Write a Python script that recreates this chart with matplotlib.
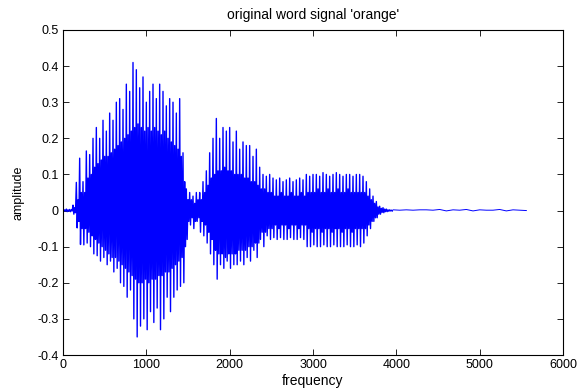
import numpy as np
import matplotlib.pyplot as plt

# per-block peaks (blocks of 40 samples, from 0 to 3960)
hi = [0.003, 0.004, 0.003, 0.015, 0.078, 0.145, 0.08, 0.165, 0.155, 0.2,
      0.23, 0.2, 0.25, 0.22, 0.27, 0.25, 0.3, 0.31, 0.28, 0.35,
      0.33, 0.41, 0.39, 0.34, 0.37, 0.30, 0.33, 0.35, 0.31, 0.35,
      0.33, 0.29, 0.31, 0.30, 0.27, 0.31, 0.16, 0.06, 0.05, 0.04,
      0.05, 0.05, 0.08, 0.11, 0.16, 0.20, 0.255, 0.20, 0.23, 0.22,
      0.23, 0.19, 0.22, 0.17, 0.19, 0.18, 0.18, 0.15, 0.17, 0.12,
      0.10, 0.095, 0.10, 0.09, 0.085, 0.09, 0.08, 0.085, 0.09, 0.08,
      0.085, 0.09, 0.085, 0.10, 0.095, 0.10, 0.10, 0.095, 0.105, 0.10,
      0.095, 0.10, 0.105, 0.10, 0.095, 0.10, 0.10, 0.095, 0.10, 0.10,
      0.095, 0.08, 0.06, 0.04, 0.025, 0.012, 0.008, 0.004, 0.002]
lo = [-0.002, -0.003, -0.003, -0.01, -0.048, -0.094, -0.095, -0.09, -0.10, -0.12,
      -0.125, -0.14, -0.13, -0.15, -0.14, -0.17, -0.16, -0.20, -0.21, -0.24,
      -0.22, -0.30, -0.35, -0.32, -0.30, -0.33, -0.28, -0.31, -0.27, -0.33,
      -0.30, -0.24, -0.28, -0.24, -0.22, -0.21, -0.20, -0.08, -0.04, -0.05,
      -0.03, -0.06, -0.07, -0.09, -0.12, -0.15, -0.19, -0.15, -0.16, -0.14,
      -0.16, -0.15, -0.15, -0.14, -0.15, -0.13, -0.14, -0.11, -0.13, -0.08,
      -0.10, -0.07, -0.08, -0.075, -0.08, -0.075, -0.08, -0.08, -0.075, -0.08,
      -0.08, -0.075, -0.08, -0.10, -0.10, -0.095, -0.10, -0.10, -0.095, -0.10,
      -0.10, -0.095, -0.10, -0.10, -0.10, -0.095, -0.10, -0.10, -0.095, -0.10,
      -0.09, -0.07, -0.05, -0.03, -0.02, -0.01, -0.006, -0.003, -0.001]
core_hi = [0.002, 0.002, 0.002, 0.008, 0.03, 0.05, 0.05, 0.09, 0.10, 0.12,
           0.13, 0.14, 0.15, 0.15, 0.16, 0.17, 0.18, 0.19, 0.20, 0.21,
           0.22, 0.23, 0.24, 0.23, 0.22, 0.23, 0.22, 0.23, 0.22, 0.21,
           0.22, 0.20, 0.19, 0.18, 0.17, 0.15, 0.08, 0.03, 0.03, 0.02,
           0.03, 0.03, 0.05, 0.07, 0.09, 0.10, 0.11, 0.11, 0.12, 0.11,
           0.11, 0.10, 0.10, 0.10, 0.09, 0.09, 0.08, 0.08, 0.07, 0.06,
           0.06, 0.05, 0.05, 0.04, 0.04, 0.05, 0.04, 0.04, 0.05, 0.04,
           0.04, 0.05, 0.04, 0.05, 0.05, 0.05, 0.06, 0.05, 0.05, 0.06,
           0.05, 0.05, 0.06, 0.05, 0.05, 0.06, 0.05, 0.05, 0.05, 0.05,
           0.05, 0.04, 0.03, 0.02, 0.01, 0.006, 0.004, 0.002, 0.001]
core_lo = [-0.001, -0.002, -0.001, -0.006, -0.03, -0.05, -0.05, -0.06, -0.07, -0.08,
           -0.09, -0.10, -0.11, -0.12, -0.13, -0.13, -0.14, -0.15, -0.16, -0.17,
           -0.18, -0.19, -0.20, -0.20, -0.19, -0.20, -0.19, -0.19, -0.18, -0.18,
           -0.17, -0.17, -0.16, -0.15, -0.14, -0.13, -0.10, -0.03, -0.02, -0.03,
           -0.02, -0.03, -0.04, -0.06, -0.08, -0.11, -0.12, -0.12, -0.13, -0.12,
           -0.12, -0.12, -0.11, -0.11, -0.11, -0.10, -0.10, -0.09, -0.09, -0.06,
           -0.06, -0.05, -0.05, -0.04, -0.05, -0.04, -0.04, -0.05, -0.04, -0.04,
           -0.05, -0.04, -0.04, -0.05, -0.06, -0.05, -0.05, -0.06, -0.05, -0.05,
           -0.06, -0.05, -0.05, -0.06, -0.05, -0.05, -0.06, -0.05, -0.05, -0.05,
           -0.05, -0.04, -0.03, -0.02, -0.01, -0.005, -0.003, -0.002, -0.001]
# quiet tail, every 80 samples from 3960 to 5560
tail = [0.002, 0.001, 0.002, 0.001, 0.002, 0.002, 0.001, 0.003, -0.001, 0.002, 0.001,
        0.003, -0.001, 0.002, 0.001, 0.001, 0.003, -0.001, 0.002, 0.001, 0.0]

xticks = [0, 1000, 2000, 3000, 4000, 5000, 6000]
yticks = [-0.4, -0.3, -0.2, -0.1, 0, 0.1, 0.2, 0.3, 0.4, 0.5]
ylabels = ['-0.4', '-0.3', '-0.2', '-0.1', '0', '0.1', '0.2', '0.3', '0.4', '0.5']

plt.rcParams['font.family'] = ['Liberation Sans', 'DejaVu Sans']

bx = np.arange(len(hi)) * 40
x = np.column_stack([bx, bx + 10, bx + 20, bx + 30]).ravel()
y = np.column_stack([hi, lo, core_hi, core_lo]).ravel()
tx = 3960 + np.arange(len(tail)) * 80

fig = plt.figure(figsize=(5.85, 3.89), dpi=100)
ax = fig.add_axes([0.1077, 0.0874, 0.8547, 0.8355])
ax.plot(x, y, color='#0000ff', linewidth=1.0)
ax.plot(np.concatenate([[x[-1]], tx]), np.concatenate([[y[-1]], tail]), color='#0000ff', linewidth=0.7)

ax.set_xlim(0, 6000)
ax.set_ylim(-0.4, 0.5)
ax.set_xticks(xticks)
ax.set_yticks(yticks)
ax.set_yticklabels(ylabels)
ax.tick_params(direction='in', length=4, width=0.6, top=True, right=True, labelsize=9, pad=3)
for s in ax.spines.values():
    s.set_linewidth(0.8)

ax.set_title("original word signal 'orange'", fontsize=10, pad=8)
ax.set_xlabel('frequency', fontsize=10, labelpad=2)
ax.set_ylabel('amplitude', fontsize=9, labelpad=9)

fig.savefig('out.png', dpi=100)
